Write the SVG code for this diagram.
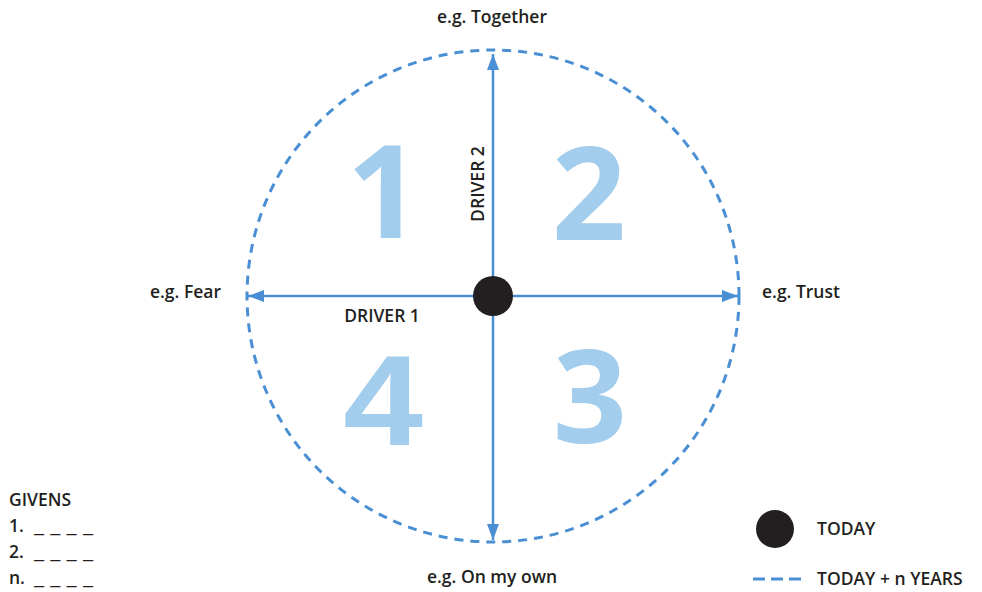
<svg xmlns="http://www.w3.org/2000/svg" width="982" height="592" viewBox="0 0 982 592">
<defs>
<style>
.lbl{font-family:"Open Sans","Liberation Sans",sans-serif;font-weight:600;font-size:17.5px;fill:#231f20}
.num{font-family:"Open Sans","Liberation Sans",sans-serif;font-weight:700;font-size:130px;fill:#a3cdec}
.num4{font-family:"Liberation Sans",Arial,sans-serif;font-weight:700;font-size:128px;fill:#a3cdec}
.axis{stroke:#4a8fd4;stroke-width:2.5;fill:none}
.dash{stroke:#4a8fd4;stroke-width:3;fill:none;stroke-dasharray:9 7}
</style>
<marker id="arr" viewBox="0 0 16 12" refX="16" refY="6" markerWidth="16" markerHeight="12" markerUnits="userSpaceOnUse" orient="auto">
<path d="M0,0 L16,6 L0,12 Z" fill="#4a8fd4"/>
</marker>
</defs>
<rect width="982" height="592" fill="#ffffff"/>
<g id="horizon">
<circle cx="493" cy="296" r="246" class="dash"/>
</g>
<g id="quadrants">
<text class="num" x="384" y="238" text-anchor="middle">1</text>
<text class="num" x="589" y="240" text-anchor="middle">2</text>
<text class="num" x="590" y="443" text-anchor="middle">3</text>
<text class="num4" transform="translate(383,445) scale(1.12,1)" text-anchor="middle">4</text>
</g>
<g id="connectors">
<line x1="493" y1="296" x2="493" y2="54" class="axis" marker-end="url(#arr)"/>
<line x1="493" y1="296" x2="493" y2="540" class="axis" marker-end="url(#arr)"/>
<line x1="493" y1="296" x2="248" y2="296" class="axis" marker-end="url(#arr)"/>
<line x1="493" y1="296" x2="738" y2="296" class="axis" marker-end="url(#arr)"/>
</g>
<g id="today">
<circle cx="493" cy="296" r="20" fill="#231f20"/>
</g>
<g id="labels">
<text class="lbl" x="492" y="23" text-anchor="middle">e.g. Together</text>
<text class="lbl" x="221" y="298" text-anchor="end">e.g. Fear</text>
<text class="lbl" x="762" y="298">e.g. Trust</text>
<text class="lbl" x="492" y="583" text-anchor="middle">e.g. On my own</text>
<text class="lbl" x="382" y="322" text-anchor="middle">DRIVER 1</text>
<text class="lbl" transform="translate(484,184) rotate(-90)" text-anchor="middle">DRIVER 2</text>
</g>
<g id="givens">
<text class="lbl" x="9" y="506">GIVENS</text>
<text class="lbl" x="9" y="532">1. <tspan x="34" textLength="59" lengthAdjust="spacingAndGlyphs">_ _ _ _</tspan></text>
<text class="lbl" x="9" y="558">2. <tspan x="34" textLength="59" lengthAdjust="spacingAndGlyphs">_ _ _ _</tspan></text>
<text class="lbl" x="9" y="584">n. <tspan x="34" textLength="59" lengthAdjust="spacingAndGlyphs">_ _ _ _</tspan></text>
</g>
<g id="legend">
<circle cx="775" cy="529" r="19" fill="#231f20"/>
<text class="lbl" x="817" y="535">TODAY</text>
<line x1="753" y1="579" x2="801" y2="579" class="dash" style="stroke-dasharray:12 6"/>
<text class="lbl" x="817" y="585">TODAY + n YEARS</text>
</g>
</svg>
